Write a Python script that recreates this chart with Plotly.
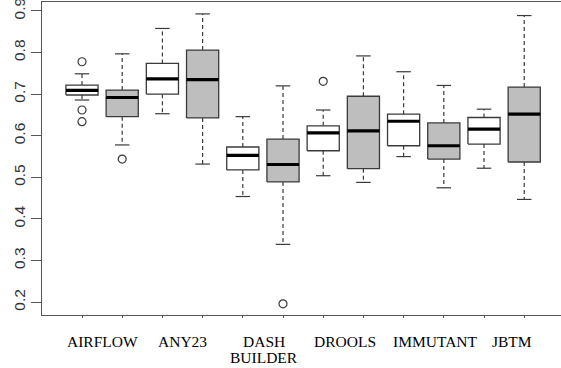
import plotly.graph_objects as go

projects = ["AIRFLOW", "ANY23", "DASH<br>BUILDER", "DROOLS", "IMMUTANT", "JBTM"]
label_pos = [1.5, 3.5, 5.52, 7.55, 9.8, 11.69]

# 12 boxes: (white, gray) per project
lower = [0.686, 0.578, 0.653, 0.532, 0.454, 0.339, 0.504, 0.488, 0.550, 0.475, 0.522, 0.447]
q1 =    [0.698, 0.646, 0.700, 0.643, 0.518, 0.489, 0.564, 0.521, 0.576, 0.544, 0.580, 0.537]
med =   [0.709, 0.692, 0.737, 0.735, 0.553, 0.531, 0.607, 0.612, 0.635, 0.576, 0.616, 0.652]
q3 =    [0.722, 0.710, 0.774, 0.806, 0.573, 0.592, 0.624, 0.695, 0.652, 0.631, 0.644, 0.717]
upper = [0.749, 0.797, 0.858, 0.893, 0.646, 0.720, 0.662, 0.792, 0.754, 0.721, 0.664, 0.889]
outliers = [[0.778, 0.662, 0.634], [0.544], [], [], [], [0.196], [0.731], [], [], [], [], []]
fills = ["white", "#bebebe"] * 6

ytick_vals = [0.2, 0.3, 0.4, 0.5, 0.6, 0.7, 0.8, 0.9]

BW = 0.4   # half box width
CW = 0.18  # half cap width
edge = "#3a3a3a"

fig = go.Figure()
for i in range(12):
    x = i + 1
    # whiskers
    fig.add_trace(go.Scatter(x=[x, x, None, x, x], y=[q3[i], upper[i], None, q1[i], lower[i]],
                             mode="lines", line=dict(color=edge, width=1.2, dash="4px,3px"),
                             hoverinfo="skip", showlegend=False))
    # caps
    fig.add_trace(go.Scatter(x=[x - CW, x + CW, None, x - CW, x + CW],
                             y=[upper[i], upper[i], None, lower[i], lower[i]],
                             mode="lines", line=dict(color=edge, width=1.2),
                             hoverinfo="skip", showlegend=False))
    # box
    fig.add_trace(go.Scatter(x=[x - BW, x + BW, x + BW, x - BW, x - BW],
                             y=[q1[i], q1[i], q3[i], q3[i], q1[i]],
                             mode="lines", fill="toself", fillcolor=fills[i],
                             line=dict(color=edge, width=1.3),
                             hoverinfo="skip", showlegend=False))
    # median
    fig.add_trace(go.Scatter(x=[x - BW, x + BW], y=[med[i], med[i]],
                             mode="lines", line=dict(color="black", width=3.2),
                             hoverinfo="skip", showlegend=False))
    if outliers[i]:
        fig.add_trace(go.Scatter(x=[x] * len(outliers[i]), y=outliers[i], mode="markers",
                                 marker=dict(symbol="circle-open", size=8, color=edge,
                                             line=dict(color=edge, width=1.2)),
                                 hoverinfo="skip", showlegend=False))

for p, name in zip(label_pos, projects):
    for k, line in enumerate(name.split("<br>")):
        fig.add_annotation(x=p, y=0, xref="x", yref="paper", yshift=-16 - 16 * k,
                           yanchor="top", text=line, showarrow=False,
                           font=dict(family="Liberation Serif", size=15.5, color="black"))

fig.update_layout(
    width=561, height=368,
    margin=dict(l=42, r=0, t=2, b=53, autoexpand=False),
    plot_bgcolor="white", paper_bgcolor="white",
    font=dict(family="Liberation Sans", color="#333"),
)

fig.update_xaxes(range=[0.005, 12.915], tickvals=list(range(1, 13)), showticklabels=False,
                 ticks="outside", ticklen=2, tickcolor="#555", showline=True, linecolor="#555",
                 linewidth=1, mirror=True, showgrid=False, zeroline=False, automargin=False)
fig.update_yaxes(range=[0.1692, 0.9216], tickvals=ytick_vals,
                 ticktext=[f"{v:.1f}" for v in ytick_vals], tickangle=-90,
                 tickfont=dict(family="Liberation Sans", size=15.5, color="#333"),
                 ticklabeloverflow="allow",
                 ticks="outside", ticklen=10, tickcolor="#555", showline=True, linecolor="#555",
                 linewidth=1, showgrid=False, zeroline=False, automargin=False)

fig.write_html("out.html", config={"displayModeBar": False},
               post_script="document.body.style.margin='0';document.body.style.padding='0';")
